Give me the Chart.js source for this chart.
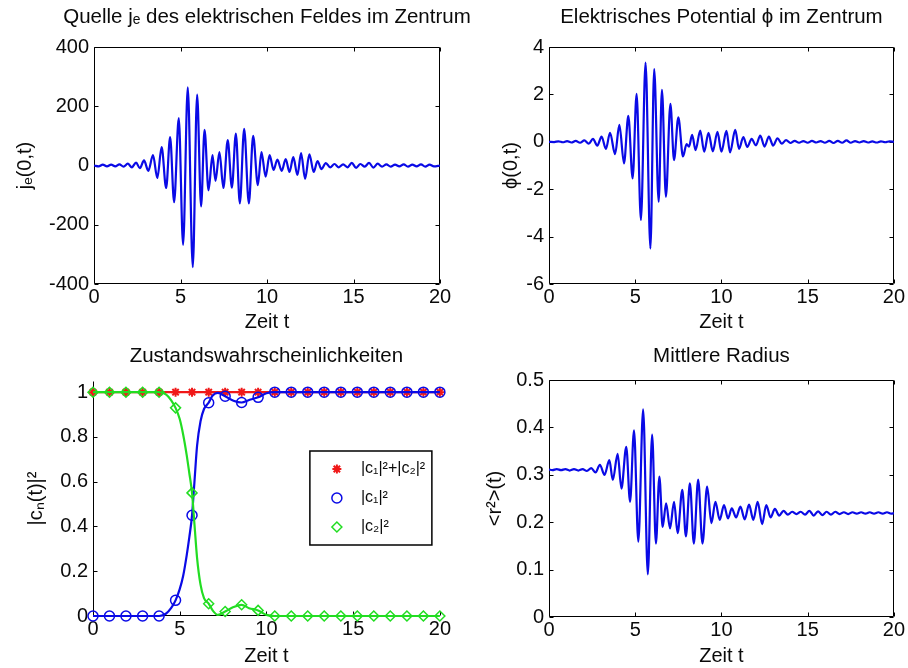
<!DOCTYPE html>
<html>
<head>
<meta charset="utf-8">
<script src="https://cdn.jsdelivr.net/npm/chart.js@4.4.1/dist/chart.umd.min.js"></script>
<style>
  body { margin: 0; background: #fff; }
  #wrap { position: relative; width: 908px; height: 668px; overflow: hidden; }
  canvas { position: absolute; }
</style>
</head>
<body>
<div id="wrap">
  <canvas id="cJe" width="534" height="334" style="left:0;top:0"></canvas>
  <canvas id="cPhi" width="454" height="334" style="left:454px;top:0"></canvas>
  <canvas id="cProb" width="454" height="334" style="left:0;top:334px"></canvas>
  <canvas id="cRad" width="454" height="334" style="left:454px;top:334px"></canvas>
</div>
<script>
// source j_e(0,t) - extrema
const tJe = [0, 0.27, 0.51, 0.75, 0.99, 1.23, 1.47, 1.71, 1.95, 2.19, 2.43, 2.65, 2.89, 3.14, 3.41, 3.66, 3.91, 4.17, 4.4, 4.63,
  4.9, 5.15, 5.42, 5.71, 5.96, 6.19, 6.39, 6.62, 6.85, 7.02, 7.25, 7.48, 7.73, 7.97, 8.2, 8.43, 8.68, 8.95, 9.2, 9.47,
  9.68, 9.92, 10.15, 10.38, 10.6, 10.85, 11.08, 11.3, 11.52, 11.76, 11.97, 12.2, 12.45, 12.7, 12.92, 13.15, 13.4, 13.65, 13.9, 14.15,
  14.4, 14.65, 14.9, 15.15, 15.4, 15.65, 15.9, 16.15, 16.4, 16.65, 16.9, 17.15, 17.4, 17.65, 17.9, 18.15, 18.4, 18.65, 18.9, 19.15,
  19.4, 19.65, 20];
const jeVals = [0, -3, 3, -3, 3, -3, 4, -4, 6, -6, 10, -9, 17, -18, 35, -42, 62, -76, 96, -124,
  160, -268, 264, -343, 239, -138, 120, -84, 35, -52, 45, -76, 86, -75, 108, -128, 124, -128, 100, -66,
  45, -38, 35, -15, 20, -18, 22, -22, 28, -32, 42, -45, 38, -22, 15, -12, 8, -6, 5, -6,
  4, -6, 9, -8, 5, -4, 9, -7, 6, -4, 4, -4, 3, -3, 4, -4, 3, -3, 4, -4,
  3, -3, 0];

// potential phi(0,t)
const tPhi = [0, 0.3, 0.55, 0.8, 1.05, 1.3, 1.55, 1.8, 2.05, 2.3, 2.55, 2.8, 3.05, 3.3, 3.54, 3.83, 4.08, 4.35, 4.6, 4.85,
  5.08, 5.33, 5.6, 5.88, 6.1, 6.36, 6.55, 6.78, 7.04, 7.25, 7.5, 7.77, 7.98, 8.12, 8.3, 8.5, 8.77, 9.0, 9.25, 9.5,
  9.77, 10.0, 10.29, 10.5, 10.8, 11.02, 11.27, 11.5, 11.75, 12.0, 12.25, 12.5, 12.75, 13.0, 13.25, 13.5, 13.75, 14.0, 14.25, 14.5,
  14.75, 15.0, 15.25, 15.5, 15.75, 16.0, 16.25, 16.5, 16.75, 17.0, 17.25, 17.5, 17.75, 18.0, 18.25, 18.5, 18.75, 19.0, 19.25, 19.5,
  19.75, 20];
const phiVals = [0, -0.01, 0.02, -0.02, 0.03, -0.03, 0.04, -0.04, 0.06, -0.08, 0.12, -0.16, 0.22, -0.3, 0.38, -0.52, 0.71, -0.91, 1.09, -1.54,
  2.02, -3.3, 3.34, -4.5, 3.07, -2.53, 2.19, -2.32, 1.6, -0.77, 1.03, -0.62, -0.1, -0.2, 0.29, -0.35, 0.47, -0.42, 0.38, -0.4,
  0.42, -0.42, 0.46, -0.45, 0.5, -0.3, 0.2, -0.22, 0.12, -0.15, 0.26, -0.2, 0.22, -0.16, 0.15, -0.08, 0.07, -0.05, 0.04, -0.04,
  0.03, -0.04, 0.04, -0.03, 0.03, -0.04, 0.04, -0.05, 0.04, -0.04, 0.06, -0.04, 0.03, -0.03, 0.03, -0.03, 0.02, -0.03, 0.02, -0.02,
  0.02, 0];

// state probabilities: lines and markers
const tLine = [0, 3.81, 4.2, 4.5, 4.76, 5.0, 5.2, 5.4, 5.55, 5.71, 5.85, 6.0, 6.2, 6.4, 6.67, 6.9, 7.2, 7.62, 8.1, 8.57, 9.0, 9.52, 10.0, 10.48, 20];
const c1Line = [0, 0, 0.01, 0.035, 0.07, 0.12, 0.18, 0.27, 0.35, 0.45, 0.6, 0.76, 0.87, 0.925, 0.953, 0.985, 0.997, 0.982, 0.962, 0.954, 0.965, 0.977, 0.995, 1, 1];
const c2Line = [1, 1, 0.99, 0.965, 0.93, 0.88, 0.81, 0.72, 0.64, 0.55, 0.41, 0.26, 0.14, 0.08, 0.055, 0.025, 0.005, 0.02, 0.04, 0.05, 0.035, 0.025, 0.005, 0, 0];
const tMarks = [0, 0.95, 1.9, 2.86, 3.81, 4.76, 5.71, 6.67, 7.62, 8.57, 9.52, 10.48, 11.43, 12.38, 13.33, 14.29, 15.24, 16.19, 17.14, 18.1, 19.05, 20];
const sumMarks = [1, 1, 1, 1, 1, 1, 1, 1, 1, 1, 1, 1, 1, 1, 1, 1, 1, 1, 1, 1, 1, 1];
const c1Marks = [0, 0, 0, 0, 0, 0.07, 0.45, 0.953, 0.982, 0.954, 0.977, 1, 1, 1, 1, 1, 1, 1, 1, 1, 1, 1];
const c2Marks = [1, 1, 1, 1, 1, 0.93, 0.55, 0.055, 0.02, 0.05, 0.025, 0, 0, 0, 0, 0, 0, 0, 0, 0, 0, 0];

// mean radius <r^2>(t)
const tRad = [0, 0.2, 0.45, 0.7, 0.95, 1.2, 1.45, 1.7, 1.95, 2.2, 2.45, 2.7, 2.95, 3.22, 3.5, 3.7, 3.98, 4.2, 4.48, 4.7,
  4.93, 5.18, 5.46, 5.73, 5.98, 6.2, 6.4, 6.59, 6.79, 7.02, 7.25, 7.46, 7.73, 7.94, 8.17, 8.4, 8.65, 8.9, 9.17, 9.42,
  9.65, 9.9, 10.15, 10.38, 10.6, 10.85, 11.1, 11.35, 11.6, 11.85, 12.1, 12.36, 12.6, 12.85, 13.1, 13.35, 13.6, 13.85, 14.1, 14.35,
  14.6, 14.85, 15.1, 15.35, 15.6, 15.85, 16.1, 16.35, 16.6, 16.85, 17.1, 17.35, 17.6, 17.85, 18.1, 18.35, 18.6, 18.85, 19.1, 19.35,
  19.6, 19.85, 20];
const radVals = [0.311, 0.31, 0.312, 0.31, 0.312, 0.309, 0.312, 0.309, 0.312, 0.308, 0.314, 0.305, 0.321, 0.3, 0.331, 0.289, 0.344, 0.271, 0.359, 0.243,
  0.394, 0.159, 0.438, 0.09, 0.385, 0.155, 0.296, 0.19, 0.24, 0.187, 0.243, 0.177, 0.268, 0.17, 0.282, 0.155, 0.29, 0.155, 0.275, 0.198,
  0.243, 0.205, 0.236, 0.208, 0.229, 0.21, 0.233, 0.206, 0.237, 0.205, 0.243, 0.196, 0.236, 0.21, 0.228, 0.214, 0.224, 0.216, 0.222, 0.217,
  0.222, 0.216, 0.224, 0.214, 0.223, 0.215, 0.222, 0.216, 0.222, 0.217, 0.221, 0.217, 0.221, 0.218, 0.221, 0.218, 0.221, 0.218, 0.221, 0.218,
  0.221, 0.218, 0.219];

const BLUE = '#0a0ae6', GREEN = '#22dd22', RED = '#f01818';

Chart.defaults.font.family = "'Liberation Sans', Arial, sans-serif";
Chart.defaults.font.size = 20;
Chart.defaults.color = '#0a0a0a';

const pts = (xs, ys) => xs.map((x, i) => ({ x: x, y: ys[i] }));
const fmt = v => String(Math.round(v * 1000) / 1000);

// matlab style frame with inward ticks
const matlabAxes = {
  id: 'matlabAxes',
  beforeDatasetsDraw(chart, args, opts) {
    const { ctx, chartArea: a, scales: { x, y } } = chart;
    const len = 4;
    const L = Math.round(a.left) + 0.5, R = Math.round(a.right) - 0.5;
    const T = Math.round(a.top) + 0.5, B = Math.round(a.bottom) - 0.5;
    ctx.save();
    ctx.strokeStyle = '#000';
    ctx.lineWidth = 1;
    ctx.beginPath();
    x.ticks.forEach(t => {
      const px = Math.round(x.getPixelForValue(t.value)) + 0.5;
      ctx.moveTo(px, B); ctx.lineTo(px, B - len);
      if (opts.box) { ctx.moveTo(px, T); ctx.lineTo(px, T + len); }
    });
    y.ticks.forEach(t => {
      const py = Math.round(y.getPixelForValue(t.value)) + 0.5;
      ctx.moveTo(L, py); ctx.lineTo(L + len, py);
      if (opts.box) { ctx.moveTo(R, py); ctx.lineTo(R - len, py); }
    });
    if (opts.box) {
      ctx.rect(L, T, R - L, B - T);
    } else {
      ctx.moveTo(L, T); ctx.lineTo(L, B); ctx.lineTo(R, B);
    }
    ctx.stroke();
    ctx.restore();
  }
};

// boxed legend inside the axes (markers only)
const boxLegend = {
  id: 'boxLegend',
  afterDraw(chart) {
    const { ctx, chartArea: a } = chart;
    const bx = a.right - 130, by = a.top + 70, bw = 122, bh = 94;
    ctx.save();
    ctx.fillStyle = '#fff';
    ctx.fillRect(bx, by, bw, bh);
    ctx.strokeStyle = '#000';
    ctx.lineWidth = 1.5;
    ctx.strokeRect(bx, by, bw, bh);
    chart.data.datasets.filter(d => d.inLegend).forEach((d, i) => {
      const cy = by + 18 + i * 29;
      ctx.strokeStyle = d.borderColor;
      ctx.fillStyle = 'rgba(0,0,0,0)';
      ctx.lineWidth = d.borderWidth;
      Chart.helpers.drawPoint(ctx, { pointStyle: d.pointStyle, radius: d.pointRadius, borderWidth: d.borderWidth, rotation: 0 }, bx + 27, cy);
      ctx.fillStyle = '#0a0a0a';
      ctx.font = "16px 'Liberation Sans', Arial, sans-serif";
      ctx.textBaseline = 'middle';
      ctx.textAlign = 'left';
      ctx.fillText(d.label, bx + 51, cy);
    });
    ctx.restore();
  }
};

function scalesFor(o) {
  const s = {
    x: {
      type: 'linear', min: 0, max: 20,
      ticks: { stepSize: 5, padding: 3, callback: fmt, maxRotation: 0, font: { size: 20, lineHeight: 1 } },
      grid: { display: false, drawTicks: false },
      border: { display: false },
      title: { display: true, text: 'Zeit t', padding: { top: 0, bottom: o.xPad }, font: { size: 20, lineHeight: 1.2 } },
      afterFit: sc => { sc.height = o.xh; }
    },
    y: {
      type: 'linear', min: o.min, max: o.max,
      ticks: { stepSize: o.step, padding: 5, callback: fmt, includeBounds: false, font: { size: 20, lineHeight: 1 } },
      grid: { display: false, drawTicks: false },
      border: { display: false },
      title: { display: true, text: o.yTitle, padding: { top: o.yPad, bottom: 0 }, font: { size: 20, lineHeight: 1.2 } },
      afterFit: sc => { sc.width = o.yw; }
    }
  };
  if (o.spacerRight) {
    // empty right-hand axis that only reserves space, so the full-width title stays centred over the plot
    s.yR = {
      type: 'linear', position: 'right', display: true,
      ticks: { display: false }, grid: { display: false, drawTicks: false }, border: { display: false },
      afterFit: sc => { sc.width = o.spacerRight; }
    };
  }
  return s;
}

function commonOpts(o) {
  return {
    responsive: false,
    animation: false,
    events: [],
    layout: { padding: { left: 0, right: o.padRight, top: 0, bottom: 0 } },
    scales: scalesFor(o),
    plugins: {
      legend: { display: false },
      tooltip: { enabled: false },
      title: {
        display: true, text: o.title, fullSize: o.fullSize, color: '#0a0a0a',
        font: { size: 20.5, weight: 'normal', lineHeight: 1.2 },
        padding: { top: o.tTop, bottom: o.tBottom }
      },
      matlabAxes: { box: o.box }
    }
  };
}

function waveSet(xs, ys) {
  return {
    data: pts(xs, ys), borderColor: BLUE, borderWidth: 2.2, pointRadius: 0,
    cubicInterpolationMode: 'monotone', fill: false
  };
}

new Chart(document.getElementById('cJe'), {
  type: 'line',
  data: { datasets: [waveSet(tJe, jeVals)] },
  options: commonOpts({ title: 'Quelle jₑ des elektrischen Feldes im Zentrum', fullSize: true, tTop: 5, tBottom: 17.4,
    padRight: 0, spacerRight: 94, min: -400, max: 400, step: 200, yTitle: 'jₑ(0,t)', yPad: 13.5, yw: 94, xh: 50, xPad: 0, box: true }),
  plugins: [matlabAxes]
});

new Chart(document.getElementById('cPhi'), {
  type: 'line',
  data: { datasets: [waveSet(tPhi, phiVals)] },
  options: commonOpts({ title: 'Elektrisches Potential ϕ im Zentrum', fullSize: false, tTop: 5, tBottom: 17.4,
    padRight: 11, min: -6, max: 4, step: 2, yTitle: 'ϕ(0,t)', yPad: 45.5, yw: 95, xh: 50, xPad: 0, box: true }),
  plugins: [matlabAxes]
});

new Chart(document.getElementById('cProb'), {
  type: 'line',
  data: {
    datasets: [
      { label: '|c₁|²+|c₂|²', data: pts(tMarks, sumMarks), showLine: false, pointStyle: 'star', pointRadius: 4.5,
        borderColor: RED, backgroundColor: RED, borderWidth: 2, pointBorderWidth: 2, order: 6, clip: false, inLegend: true },
      { label: '|c₁|²', data: pts(tMarks, c1Marks), showLine: false, pointStyle: 'circle', pointRadius: 5,
        borderColor: BLUE, backgroundColor: 'rgba(0,0,0,0)', borderWidth: 1.5, pointBorderWidth: 1.5, order: 4, clip: false, inLegend: true },
      { label: '|c₂|²', data: pts(tMarks, c2Marks), showLine: false, pointStyle: 'rectRot', pointRadius: 5,
        borderColor: GREEN, backgroundColor: 'rgba(0,0,0,0)', borderWidth: 1.5, pointBorderWidth: 1.5, order: 2, clip: false, inLegend: true },
      { label: 'sum', data: pts(tMarks, sumMarks), borderColor: RED, borderWidth: 2.2, pointRadius: 0, order: 5, clip: false },
      { label: 'c1', data: pts(tLine, c1Line), borderColor: BLUE, borderWidth: 2.2, pointRadius: 0, cubicInterpolationMode: 'monotone', order: 3, clip: false },
      { label: 'c2', data: pts(tLine, c2Line), borderColor: GREEN, borderWidth: 2.2, pointRadius: 0, cubicInterpolationMode: 'monotone', order: 1, clip: false }
    ]
  },
  options: commonOpts({ title: 'Zustandswahrscheinlichkeiten', fullSize: false, tTop: 10, tBottom: 12.4,
    padRight: 14, min: 0, max: 1.05, step: 0.2, yTitle: '|cₙ(t)|²', yPad: 24, yw: 93, xh: 52, xPad: 0, box: false }),
  plugins: [matlabAxes, boxLegend]
});

new Chart(document.getElementById('cRad'), {
  type: 'line',
  data: { datasets: [waveSet(tRad, radVals)] },
  options: commonOpts({ title: 'Mittlere Radius', fullSize: false, tTop: 10, tBottom: 11.4,
    padRight: 11, min: 0, max: 0.5, step: 0.1, yTitle: '<r²>(t)', yPad: 29.5, yw: 95, xh: 51, xPad: 0, box: true }),
  plugins: [matlabAxes]
});
</script>
</body>
</html>
